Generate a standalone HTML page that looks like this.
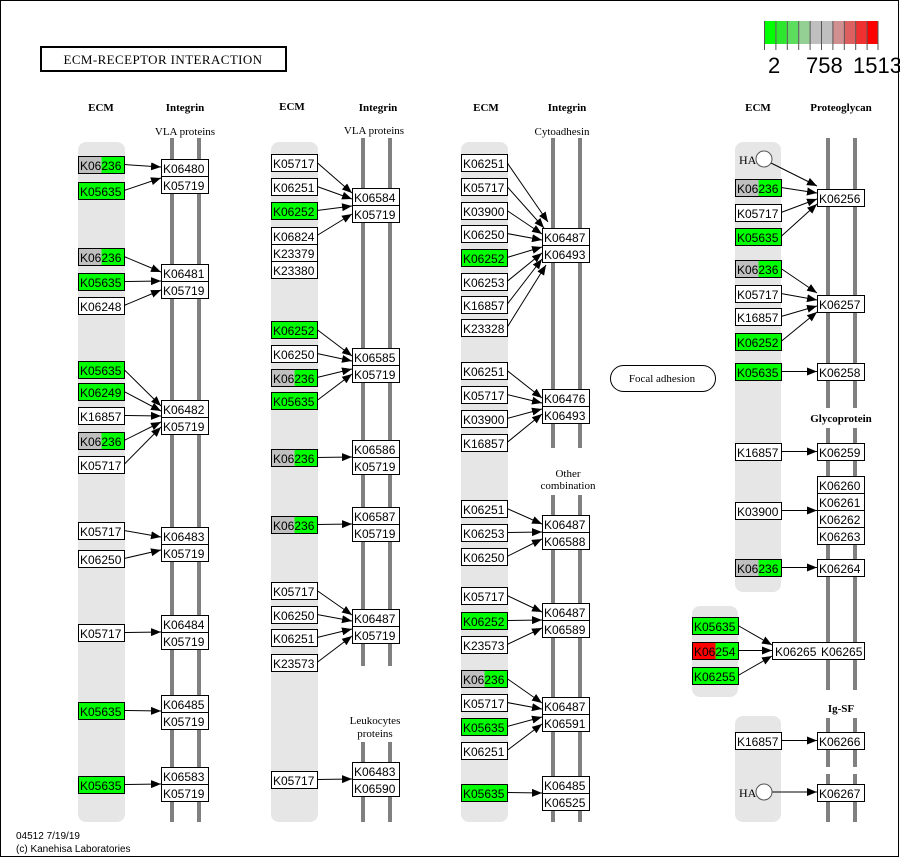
<!DOCTYPE html>
<html><head><meta charset="utf-8"><style>
html,body{margin:0;padding:0;background:#fff;}
svg{display:block;}
.b text{font-family:"Liberation Sans",sans-serif;font-size:12px;fill:#000;}
.h{font-family:"Liberation Serif",serif;font-size:11px;font-weight:bold;text-anchor:middle;}
.l{font-family:"Liberation Serif",serif;font-size:11px;text-anchor:middle;}
.a{stroke:#000;stroke-width:1;marker-end:url(#m);}
.bar{fill:#808080;}
.bg{fill:#e6e6e6;}
</style></head><body>
<svg width="900" height="858" viewBox="0 0 900 858" xmlns="http://www.w3.org/2000/svg">
<defs><marker id="m" markerWidth="10" markerHeight="8" refX="10" refY="4" orient="auto" markerUnits="userSpaceOnUse"><path d="M0,0 L10,4 L0,8 z" fill="#000"/></marker></defs>
<rect x="0.5" y="0.5" width="898" height="856" fill="#fff" stroke="#000"/>
<g>
<rect x="764" y="21" width="11.4" height="23" fill="#00ff00"/>
<rect x="775.4" y="21" width="11.4" height="23" fill="#2ee62e"/>
<rect x="786.8" y="21" width="11.4" height="23" fill="#5ddd5d"/>
<rect x="798.2" y="21" width="11.4" height="23" fill="#94cf94"/>
<rect x="809.6" y="21" width="11.4" height="23" fill="#bfbfbf"/>
<rect x="821" y="21" width="11.4" height="23" fill="#bfbfbf"/>
<rect x="832.4" y="21" width="11.4" height="23" fill="#d09090"/>
<rect x="843.8" y="21" width="11.4" height="23" fill="#dd6060"/>
<rect x="855.2" y="21" width="11.4" height="23" fill="#ee3030"/>
<rect x="866.6" y="21" width="11.4" height="23" fill="#ff0000"/>
<path d="M764.5 21v29M775.9 21v29M787.3 21v29M798.7 21v29M810.1 21v29M821.5 21v29M832.9 21v29M844.3 21v29M855.7 21v29M867.1 21v29M878 21v29" stroke="#555" stroke-width="1"/>
<text x="768" y="73" font-family="Liberation Sans,sans-serif" font-size="22">2</text>
<text x="806" y="73" font-family="Liberation Sans,sans-serif" font-size="22">758</text>
<text x="853" y="73" font-family="Liberation Sans,sans-serif" font-size="22">1513</text>
</g>
<rect x="41" y="47" width="245" height="24" fill="#fff" stroke="#000" stroke-width="2"/>
<text x="163" y="64" class="l" style="font-size:13px;letter-spacing:0.4px">ECM-RECEPTOR  INTERACTION</text>
<text x="101" y="111" class="h">ECM</text><text x="185" y="111" class="h">Integrin</text>
<text x="292" y="110" class="h">ECM</text><text x="378" y="111" class="h">Integrin</text>
<text x="486" y="111" class="h">ECM</text><text x="567" y="111" class="h">Integrin</text>
<text x="758" y="111" class="h">ECM</text><text x="841" y="111" class="h">Proteoglycan</text>
<text x="185" y="135" class="l">VLA proteins</text>
<text x="374" y="134" class="l">VLA proteins</text>
<text x="562" y="135" class="l">Cytoadhesin</text>
<text x="568" y="477" class="l">Other</text><text x="568" y="489" class="l">combination</text>
<text x="375" y="724" class="l">Leukocytes</text><text x="375" y="737" class="l">proteins</text>
<text x="841" y="422" class="h">Glycoprotein</text>
<text x="841" y="712" class="h">Ig-SF</text>
<rect class="bg" x="78" y="142" width="47" height="680" rx="8"/>
<rect class="bg" x="271" y="142" width="47" height="680" rx="8"/>
<rect class="bg" x="461" y="142" width="47" height="680" rx="8"/>
<rect class="bg" x="735" y="142" width="46" height="450" rx="8"/>
<rect class="bg" x="692" y="606" width="46" height="91" rx="8"/>
<rect class="bg" x="735" y="716" width="46" height="106" rx="8"/>
<rect class="bar" x="170" y="138" width="4" height="684"/><rect class="bar" x="197" y="138" width="4" height="684"/>
<rect class="bar" x="361" y="138" width="4" height="528"/><rect class="bar" x="388" y="138" width="4" height="528"/>
<rect class="bar" x="361" y="742" width="4" height="80"/><rect class="bar" x="388" y="742" width="4" height="80"/>
<rect class="bar" x="551" y="138" width="4" height="310"/><rect class="bar" x="578" y="138" width="4" height="310"/>
<rect class="bar" x="551" y="495" width="4" height="327"/><rect class="bar" x="578" y="495" width="4" height="327"/>
<rect class="bar" x="826" y="138" width="4" height="270"/><rect class="bar" x="853" y="138" width="4" height="270"/>
<rect class="bar" x="826" y="428" width="4" height="262"/><rect class="bar" x="853" y="428" width="4" height="262"/>
<rect class="bar" x="826" y="718" width="4" height="49"/><rect class="bar" x="853" y="718" width="4" height="49"/>
<rect class="bar" x="826" y="774" width="4" height="48"/><rect class="bar" x="853" y="774" width="4" height="48"/>
<g>
<line class="a" x1="124" y1="164.5" x2="161" y2="167"/><line class="a" x1="124" y1="190.5" x2="161" y2="178"/>
<line class="a" x1="124" y1="256.5" x2="161" y2="272"/><line class="a" x1="124" y1="281.5" x2="161" y2="281"/><line class="a" x1="124" y1="305.5" x2="161" y2="290"/>
<line class="a" x1="124" y1="369.5" x2="161" y2="406"/><line class="a" x1="124" y1="391.5" x2="161" y2="411"/><line class="a" x1="124" y1="415.5" x2="161" y2="416"/><line class="a" x1="124" y1="440.5" x2="161" y2="422"/><line class="a" x1="124" y1="464.5" x2="161" y2="427"/>
<line class="a" x1="124" y1="530.5" x2="161" y2="537"/><line class="a" x1="124" y1="558.5" x2="161" y2="550"/>
<line class="a" x1="124" y1="632.5" x2="161" y2="632"/>
<line class="a" x1="124" y1="710.5" x2="161" y2="711"/>
<line class="a" x1="124" y1="784.5" x2="161" y2="784"/>
<line class="a" x1="317" y1="162.5" x2="352" y2="193"/><line class="a" x1="317" y1="186.5" x2="352" y2="199"/><line class="a" x1="317" y1="210.5" x2="352" y2="206"/><line class="a" x1="317" y1="235.5" x2="352" y2="214"/>
<line class="a" x1="317" y1="329.5" x2="352" y2="356"/><line class="a" x1="317" y1="353.5" x2="352" y2="361"/><line class="a" x1="317" y1="377.5" x2="352" y2="369"/><line class="a" x1="317" y1="400.5" x2="352" y2="374"/>
<line class="a" x1="317" y1="457.5" x2="352" y2="457"/>
<line class="a" x1="317" y1="524.5" x2="352" y2="524"/>
<line class="a" x1="317" y1="590.5" x2="352" y2="615"/><line class="a" x1="317" y1="614.5" x2="352" y2="621"/><line class="a" x1="317" y1="637.5" x2="352" y2="629"/><line class="a" x1="317" y1="662.5" x2="352" y2="636"/>
<line class="a" x1="317" y1="779.5" x2="352" y2="779"/>
<line class="a" x1="507" y1="162.5" x2="548" y2="222"/><line class="a" x1="507" y1="186.5" x2="544" y2="228"/><line class="a" x1="507" y1="210.5" x2="542" y2="234"/><line class="a" x1="507" y1="233.5" x2="542" y2="240"/><line class="a" x1="507" y1="257.5" x2="542" y2="247"/><line class="a" x1="507" y1="281.5" x2="542" y2="253"/><line class="a" x1="507" y1="304.5" x2="542" y2="259"/><line class="a" x1="507" y1="327.5" x2="546" y2="265"/>
<line class="a" x1="507" y1="370.5" x2="542" y2="398"/><line class="a" x1="507" y1="394.5" x2="542" y2="403"/><line class="a" x1="507" y1="418.5" x2="542" y2="409"/><line class="a" x1="507" y1="442.5" x2="542" y2="414"/>
<line class="a" x1="507" y1="508.5" x2="542" y2="524"/><line class="a" x1="507" y1="532.5" x2="542" y2="532"/><line class="a" x1="507" y1="556.5" x2="542" y2="539"/>
<line class="a" x1="507" y1="595.5" x2="542" y2="612"/><line class="a" x1="507" y1="620.5" x2="542" y2="620"/><line class="a" x1="507" y1="644.5" x2="542" y2="628"/>
<line class="a" x1="507" y1="678.5" x2="542" y2="703"/><line class="a" x1="507" y1="702.5" x2="542" y2="709"/><line class="a" x1="507" y1="726.5" x2="542" y2="717"/><line class="a" x1="507" y1="750.5" x2="542" y2="724"/>
<line class="a" x1="507" y1="792.5" x2="542" y2="793"/>
<line class="a" x1="771" y1="163" x2="817" y2="186"/><line class="a" x1="781" y1="187.5" x2="817" y2="193"/><line class="a" x1="781" y1="212.5" x2="817" y2="199"/><line class="a" x1="781" y1="236.5" x2="817" y2="204"/>
<line class="a" x1="781" y1="268.5" x2="817" y2="293"/><line class="a" x1="781" y1="293.5" x2="817" y2="300"/><line class="a" x1="781" y1="316.5" x2="817" y2="306"/><line class="a" x1="781" y1="341.5" x2="817" y2="312"/>
<line class="a" x1="781" y1="371.5" x2="817" y2="371.5"/>
<line class="a" x1="781" y1="451.5" x2="817" y2="451.5"/>
<line class="a" x1="781" y1="510.5" x2="817" y2="510.5"/>
<line class="a" x1="781" y1="567.5" x2="817" y2="567.5"/>
<line class="a" x1="738" y1="625.5" x2="772" y2="645"/><line class="a" x1="738" y1="650.5" x2="772" y2="650.5"/><line class="a" x1="738" y1="675.5" x2="772" y2="656"/>
<line class="a" x1="781" y1="740.5" x2="817" y2="740.5"/>
<line class="a" x1="772" y1="792" x2="817" y2="792"/>
</g>
<text x="739" y="164" font-family="Liberation Serif,serif" font-size="12">HA</text>
<circle cx="764" cy="159" r="8" fill="#fff" stroke="#555"/>
<text x="739" y="797" font-family="Liberation Serif,serif" font-size="12">HA</text>
<circle cx="764" cy="792" r="8" fill="#fff" stroke="#555"/>
<rect x="610.5" y="365.5" width="105" height="26" rx="13" fill="#fff" stroke="#000"/>
<text x="662" y="382" class="l">Focal adhesion</text>
<g class="b" stroke-width="1">
<rect x="78.5" y="156.5" width="23" height="17" fill="#bfbfbf"/><rect x="101.5" y="156.5" width="23" height="17" fill="#00ff00"/><rect x="78.5" y="156.5" width="46" height="17" fill="none" stroke="#000"/><text x="80" y="170">K06236</text>
<rect x="78.5" y="182.5" width="46" height="17" fill="#00ff00" stroke="#000"/><text x="80" y="196">K05635</text>
<rect x="78.5" y="248.5" width="23" height="17" fill="#bfbfbf"/><rect x="101.5" y="248.5" width="23" height="17" fill="#00ff00"/><rect x="78.5" y="248.5" width="46" height="17" fill="none" stroke="#000"/><text x="80" y="262">K06236</text>
<rect x="78.5" y="273.5" width="46" height="17" fill="#00ff00" stroke="#000"/><text x="80" y="287">K05635</text>
<rect x="78.5" y="297.5" width="46" height="17" fill="#fff" stroke="#000"/><text x="80" y="311">K06248</text>
<rect x="78.5" y="361.5" width="46" height="17" fill="#00ff00" stroke="#000"/><text x="80" y="375">K05635</text>
<rect x="78.5" y="383.5" width="46" height="17" fill="#00ff00" stroke="#000"/><text x="80" y="397">K06249</text>
<rect x="78.5" y="407.5" width="46" height="17" fill="#fff" stroke="#000"/><text x="80" y="421">K16857</text>
<rect x="78.5" y="432.5" width="23" height="17" fill="#bfbfbf"/><rect x="101.5" y="432.5" width="23" height="17" fill="#00ff00"/><rect x="78.5" y="432.5" width="46" height="17" fill="none" stroke="#000"/><text x="80" y="446">K06236</text>
<rect x="78.5" y="456.5" width="46" height="17" fill="#fff" stroke="#000"/><text x="80" y="470">K05717</text>
<rect x="78.5" y="522.5" width="46" height="17" fill="#fff" stroke="#000"/><text x="80" y="536">K05717</text>
<rect x="78.5" y="550.5" width="46" height="17" fill="#fff" stroke="#000"/><text x="80" y="564">K06250</text>
<rect x="78.5" y="624.5" width="46" height="17" fill="#fff" stroke="#000"/><text x="80" y="638">K05717</text>
<rect x="78.5" y="702.5" width="46" height="17" fill="#00ff00" stroke="#000"/><text x="80" y="716">K05635</text>
<rect x="78.5" y="776.5" width="46" height="17" fill="#00ff00" stroke="#000"/><text x="80" y="790">K05635</text>
<rect x="161.5" y="159.5" width="47" height="17" fill="#fff" stroke="#000"/><text x="163" y="173">K06480</text>
<rect x="161.5" y="176.5" width="47" height="17" fill="#fff" stroke="#000"/><text x="163" y="190">K05719</text>
<rect x="161.5" y="264.5" width="47" height="17" fill="#fff" stroke="#000"/><text x="163" y="278">K06481</text>
<rect x="161.5" y="281.5" width="47" height="17" fill="#fff" stroke="#000"/><text x="163" y="295">K05719</text>
<rect x="161.5" y="400.5" width="47" height="17" fill="#fff" stroke="#000"/><text x="163" y="414">K06482</text>
<rect x="161.5" y="417.5" width="47" height="17" fill="#fff" stroke="#000"/><text x="163" y="431">K05719</text>
<rect x="161.5" y="527.5" width="47" height="17" fill="#fff" stroke="#000"/><text x="163" y="541">K06483</text>
<rect x="161.5" y="544.5" width="47" height="17" fill="#fff" stroke="#000"/><text x="163" y="558">K05719</text>
<rect x="161.5" y="615.5" width="47" height="17" fill="#fff" stroke="#000"/><text x="163" y="629">K06484</text>
<rect x="161.5" y="632.5" width="47" height="17" fill="#fff" stroke="#000"/><text x="163" y="646">K05719</text>
<rect x="161.5" y="695.5" width="47" height="17" fill="#fff" stroke="#000"/><text x="163" y="709">K06485</text>
<rect x="161.5" y="712.5" width="47" height="17" fill="#fff" stroke="#000"/><text x="163" y="726">K05719</text>
<rect x="161.5" y="767.5" width="47" height="17" fill="#fff" stroke="#000"/><text x="163" y="781">K06583</text>
<rect x="161.5" y="784.5" width="47" height="17" fill="#fff" stroke="#000"/><text x="163" y="798">K05719</text>
<rect x="271.5" y="154.5" width="46" height="17" fill="#fff" stroke="#000"/><text x="273" y="168">K05717</text>
<rect x="271.5" y="178.5" width="46" height="17" fill="#fff" stroke="#000"/><text x="273" y="192">K06251</text>
<rect x="271.5" y="202.5" width="46" height="17" fill="#00ff00" stroke="#000"/><text x="273" y="216">K06252</text>
<rect x="271.5" y="227.5" width="46" height="17" fill="#fff" stroke="#000"/><text x="273" y="241">K06824</text>
<rect x="271.5" y="244.5" width="46" height="17" fill="#fff" stroke="#000"/><text x="273" y="258">K23379</text>
<rect x="271.5" y="261.5" width="46" height="17" fill="#fff" stroke="#000"/><text x="273" y="275">K23380</text>
<rect x="271.5" y="321.5" width="46" height="17" fill="#00ff00" stroke="#000"/><text x="273" y="335">K06252</text>
<rect x="271.5" y="345.5" width="46" height="17" fill="#fff" stroke="#000"/><text x="273" y="359">K06250</text>
<rect x="271.5" y="369.5" width="23" height="17" fill="#bfbfbf"/><rect x="294.5" y="369.5" width="23" height="17" fill="#00ff00"/><rect x="271.5" y="369.5" width="46" height="17" fill="none" stroke="#000"/><text x="273" y="383">K06236</text>
<rect x="271.5" y="392.5" width="46" height="17" fill="#00ff00" stroke="#000"/><text x="273" y="406">K05635</text>
<rect x="271.5" y="449.5" width="23" height="17" fill="#bfbfbf"/><rect x="294.5" y="449.5" width="23" height="17" fill="#00ff00"/><rect x="271.5" y="449.5" width="46" height="17" fill="none" stroke="#000"/><text x="273" y="463">K06236</text>
<rect x="271.5" y="516.5" width="23" height="17" fill="#bfbfbf"/><rect x="294.5" y="516.5" width="23" height="17" fill="#00ff00"/><rect x="271.5" y="516.5" width="46" height="17" fill="none" stroke="#000"/><text x="273" y="530">K06236</text>
<rect x="271.5" y="582.5" width="46" height="17" fill="#fff" stroke="#000"/><text x="273" y="596">K05717</text>
<rect x="271.5" y="606.5" width="46" height="17" fill="#fff" stroke="#000"/><text x="273" y="620">K06250</text>
<rect x="271.5" y="629.5" width="46" height="17" fill="#fff" stroke="#000"/><text x="273" y="643">K06251</text>
<rect x="271.5" y="654.5" width="46" height="17" fill="#fff" stroke="#000"/><text x="273" y="668">K23573</text>
<rect x="271.5" y="771.5" width="46" height="17" fill="#fff" stroke="#000"/><text x="273" y="785">K05717</text>
<rect x="352.5" y="188.5" width="47" height="17" fill="#fff" stroke="#000"/><text x="354" y="202">K06584</text>
<rect x="352.5" y="205.5" width="47" height="17" fill="#fff" stroke="#000"/><text x="354" y="219">K05719</text>
<rect x="352.5" y="348.5" width="47" height="17" fill="#fff" stroke="#000"/><text x="354" y="362">K06585</text>
<rect x="352.5" y="365.5" width="47" height="17" fill="#fff" stroke="#000"/><text x="354" y="379">K05719</text>
<rect x="352.5" y="440.5" width="47" height="17" fill="#fff" stroke="#000"/><text x="354" y="454">K06586</text>
<rect x="352.5" y="457.5" width="47" height="17" fill="#fff" stroke="#000"/><text x="354" y="471">K05719</text>
<rect x="352.5" y="507.5" width="47" height="17" fill="#fff" stroke="#000"/><text x="354" y="521">K06587</text>
<rect x="352.5" y="524.5" width="47" height="17" fill="#fff" stroke="#000"/><text x="354" y="538">K05719</text>
<rect x="352.5" y="609.5" width="47" height="17" fill="#fff" stroke="#000"/><text x="354" y="623">K06487</text>
<rect x="352.5" y="626.5" width="47" height="17" fill="#fff" stroke="#000"/><text x="354" y="640">K05719</text>
<rect x="352.5" y="762.5" width="47" height="17" fill="#fff" stroke="#000"/><text x="354" y="776">K06483</text>
<rect x="352.5" y="779.5" width="47" height="17" fill="#fff" stroke="#000"/><text x="354" y="793">K06590</text>
<rect x="461.5" y="154.5" width="46" height="17" fill="#fff" stroke="#000"/><text x="463" y="168">K06251</text>
<rect x="461.5" y="178.5" width="46" height="17" fill="#fff" stroke="#000"/><text x="463" y="192">K05717</text>
<rect x="461.5" y="202.5" width="46" height="17" fill="#fff" stroke="#000"/><text x="463" y="216">K03900</text>
<rect x="461.5" y="225.5" width="46" height="17" fill="#fff" stroke="#000"/><text x="463" y="239">K06250</text>
<rect x="461.5" y="249.5" width="46" height="17" fill="#00ff00" stroke="#000"/><text x="463" y="263">K06252</text>
<rect x="461.5" y="273.5" width="46" height="17" fill="#fff" stroke="#000"/><text x="463" y="287">K06253</text>
<rect x="461.5" y="296.5" width="46" height="17" fill="#fff" stroke="#000"/><text x="463" y="310">K16857</text>
<rect x="461.5" y="319.5" width="46" height="17" fill="#fff" stroke="#000"/><text x="463" y="333">K23328</text>
<rect x="461.5" y="362.5" width="46" height="17" fill="#fff" stroke="#000"/><text x="463" y="376">K06251</text>
<rect x="461.5" y="386.5" width="46" height="17" fill="#fff" stroke="#000"/><text x="463" y="400">K05717</text>
<rect x="461.5" y="410.5" width="46" height="17" fill="#fff" stroke="#000"/><text x="463" y="424">K03900</text>
<rect x="461.5" y="434.5" width="46" height="17" fill="#fff" stroke="#000"/><text x="463" y="448">K16857</text>
<rect x="461.5" y="500.5" width="46" height="17" fill="#fff" stroke="#000"/><text x="463" y="514">K06251</text>
<rect x="461.5" y="524.5" width="46" height="17" fill="#fff" stroke="#000"/><text x="463" y="538">K06253</text>
<rect x="461.5" y="548.5" width="46" height="17" fill="#fff" stroke="#000"/><text x="463" y="562">K06250</text>
<rect x="461.5" y="587.5" width="46" height="17" fill="#fff" stroke="#000"/><text x="463" y="601">K05717</text>
<rect x="461.5" y="612.5" width="46" height="17" fill="#00ff00" stroke="#000"/><text x="463" y="626">K06252</text>
<rect x="461.5" y="636.5" width="46" height="17" fill="#fff" stroke="#000"/><text x="463" y="650">K23573</text>
<rect x="461.5" y="670.5" width="23" height="17" fill="#bfbfbf"/><rect x="484.5" y="670.5" width="23" height="17" fill="#00ff00"/><rect x="461.5" y="670.5" width="46" height="17" fill="none" stroke="#000"/><text x="463" y="684">K06236</text>
<rect x="461.5" y="694.5" width="46" height="17" fill="#fff" stroke="#000"/><text x="463" y="708">K05717</text>
<rect x="461.5" y="718.5" width="46" height="17" fill="#00ff00" stroke="#000"/><text x="463" y="732">K05635</text>
<rect x="461.5" y="742.5" width="46" height="17" fill="#fff" stroke="#000"/><text x="463" y="756">K06251</text>
<rect x="461.5" y="784.5" width="46" height="17" fill="#00ff00" stroke="#000"/><text x="463" y="798">K05635</text>
<rect x="542.5" y="228.5" width="47" height="17" fill="#fff" stroke="#000"/><text x="544" y="242">K06487</text>
<rect x="542.5" y="245.5" width="47" height="17" fill="#fff" stroke="#000"/><text x="544" y="259">K06493</text>
<rect x="542.5" y="389.5" width="47" height="17" fill="#fff" stroke="#000"/><text x="544" y="403">K06476</text>
<rect x="542.5" y="406.5" width="47" height="17" fill="#fff" stroke="#000"/><text x="544" y="420">K06493</text>
<rect x="542.5" y="515.5" width="47" height="17" fill="#fff" stroke="#000"/><text x="544" y="529">K06487</text>
<rect x="542.5" y="532.5" width="47" height="17" fill="#fff" stroke="#000"/><text x="544" y="546">K06588</text>
<rect x="542.5" y="603.5" width="47" height="17" fill="#fff" stroke="#000"/><text x="544" y="617">K06487</text>
<rect x="542.5" y="620.5" width="47" height="17" fill="#fff" stroke="#000"/><text x="544" y="634">K06589</text>
<rect x="542.5" y="697.5" width="47" height="17" fill="#fff" stroke="#000"/><text x="544" y="711">K06487</text>
<rect x="542.5" y="714.5" width="47" height="17" fill="#fff" stroke="#000"/><text x="544" y="728">K06591</text>
<rect x="542.5" y="776.5" width="47" height="17" fill="#fff" stroke="#000"/><text x="544" y="790">K06485</text>
<rect x="542.5" y="793.5" width="47" height="17" fill="#fff" stroke="#000"/><text x="544" y="807">K06525</text>
<rect x="735.5" y="179.5" width="23" height="17" fill="#bfbfbf"/><rect x="758.5" y="179.5" width="23" height="17" fill="#00ff00"/><rect x="735.5" y="179.5" width="46" height="17" fill="none" stroke="#000"/><text x="737" y="193">K06236</text>
<rect x="735.5" y="204.5" width="46" height="17" fill="#fff" stroke="#000"/><text x="737" y="218">K05717</text>
<rect x="735.5" y="228.5" width="46" height="17" fill="#00ff00" stroke="#000"/><text x="737" y="242">K05635</text>
<rect x="735.5" y="260.5" width="23" height="17" fill="#bfbfbf"/><rect x="758.5" y="260.5" width="23" height="17" fill="#00ff00"/><rect x="735.5" y="260.5" width="46" height="17" fill="none" stroke="#000"/><text x="737" y="274">K06236</text>
<rect x="735.5" y="285.5" width="46" height="17" fill="#fff" stroke="#000"/><text x="737" y="299">K05717</text>
<rect x="735.5" y="308.5" width="46" height="17" fill="#fff" stroke="#000"/><text x="737" y="322">K16857</text>
<rect x="735.5" y="333.5" width="46" height="17" fill="#00ff00" stroke="#000"/><text x="737" y="347">K06252</text>
<rect x="735.5" y="363.5" width="46" height="17" fill="#00ff00" stroke="#000"/><text x="737" y="377">K05635</text>
<rect x="735.5" y="443.5" width="46" height="17" fill="#fff" stroke="#000"/><text x="737" y="457">K16857</text>
<rect x="735.5" y="502.5" width="46" height="17" fill="#fff" stroke="#000"/><text x="737" y="516">K03900</text>
<rect x="735.5" y="559.5" width="23" height="17" fill="#bfbfbf"/><rect x="758.5" y="559.5" width="23" height="17" fill="#00ff00"/><rect x="735.5" y="559.5" width="46" height="17" fill="none" stroke="#000"/><text x="737" y="573">K06236</text>
<rect x="692.5" y="617.5" width="46" height="17" fill="#00ff00" stroke="#000"/><text x="694" y="631">K05635</text>
<rect x="692.5" y="642.5" width="23" height="17" fill="#ff0000"/><rect x="715.5" y="642.5" width="23" height="17" fill="#00ff00"/><rect x="692.5" y="642.5" width="46" height="17" fill="none" stroke="#000"/><text x="694" y="656">K06254</text>
<rect x="692.5" y="667.5" width="46" height="17" fill="#00ff00" stroke="#000"/><text x="694" y="681">K06255</text>
<rect x="735.5" y="732.5" width="46" height="17" fill="#fff" stroke="#000"/><text x="737" y="746">K16857</text>
<rect x="817.5" y="189.5" width="47" height="17" fill="#fff" stroke="#000"/><text x="819" y="203">K06256</text>
<rect x="817.5" y="295.5" width="47" height="17" fill="#fff" stroke="#000"/><text x="819" y="309">K06257</text>
<rect x="817.5" y="363.5" width="47" height="17" fill="#fff" stroke="#000"/><text x="819" y="377">K06258</text>
<rect x="817.5" y="443.5" width="47" height="17" fill="#fff" stroke="#000"/><text x="819" y="457">K06259</text>
<rect x="817.5" y="476.5" width="47" height="17" fill="#fff" stroke="#000"/><text x="819" y="490">K06260</text>
<rect x="817.5" y="493.5" width="47" height="17" fill="#fff" stroke="#000"/><text x="819" y="507">K06261</text>
<rect x="817.5" y="510.5" width="47" height="17" fill="#fff" stroke="#000"/><text x="819" y="524">K06262</text>
<rect x="817.5" y="527.5" width="47" height="17" fill="#fff" stroke="#000"/><text x="819" y="541">K06263</text>
<rect x="817.5" y="559.5" width="47" height="17" fill="#fff" stroke="#000"/><text x="819" y="573">K06264</text>
<rect x="772.5" y="642.5" width="92" height="17" fill="#fff" stroke="#000"/><text x="775" y="656">K06265</text><text x="821" y="656">K06265</text>
<rect x="817.5" y="732.5" width="47" height="17" fill="#fff" stroke="#000"/><text x="819" y="746">K06266</text>
<rect x="817.5" y="784.5" width="47" height="17" fill="#fff" stroke="#000"/><text x="819" y="798">K06267</text>
</g>
<text x="16" y="839" font-family="Liberation Sans,sans-serif" font-size="10">04512 7/19/19</text>
<text x="16" y="852" font-family="Liberation Sans,sans-serif" font-size="10">(c) Kanehisa Laboratories</text>
</svg>
</body></html>
